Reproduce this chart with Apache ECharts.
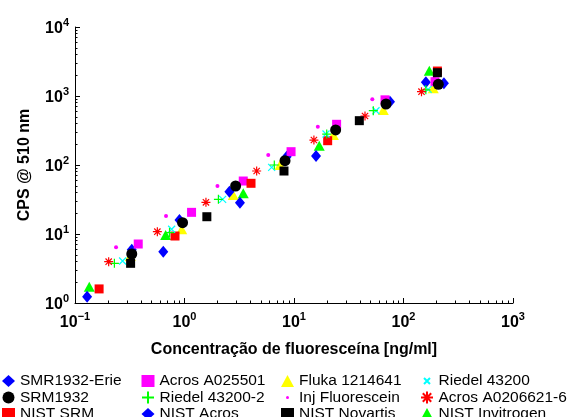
<!DOCTYPE html>
<html>
<head>
<meta charset="utf-8">
<script src="https://cdn.jsdelivr.net/npm/echarts@6/dist/echarts.min.js"></script>
<style>
  html, body { margin: 0; padding: 0; background: #fff; }
  #chart { width: 573px; height: 417px; }
</style>
</head>
<body>
<div id="chart"></div>
<script>
// pontos [concentração ng/ml, CPS]
const smrErie = [[0.129, 1.23], [0.64, 5.54], [3.21, 28.4], [15.9, 135], [160, 1580]];
const srm1932 = [[0.33, 5.13], [0.96, 14.6], [2.93, 49.6], [8.28, 115.6], [24, 322], [69.2, 766], [208, 1479]];
const nistSrm = [[0.166, 1.6], [0.819, 9.35], [4.05, 54.3], [20.3, 225], [204, 2300]];
const acrosA025501 = [[0.378, 7.16], [1.16, 20.6], [3.44, 58.6], [9.4, 156], [24.5, 389], [67.8, 880], [194, 1611]];
const riedel2 = [[0.229, 3.76], [0.73, 10.5], [2.04, 31.8], [6.61, 100], [19.9, 281], [53, 612], [160, 1230]];
const nistAcros = [[0.33, 5.9], [0.9, 16], [2.57, 41], [8.57, 132], [75.3, 827], [234, 1528]];
const fluka = [[0.32, 4.8], [0.943, 11.7], [2.79, 36.7], [7.45, 100], [22.9, 272], [65.4, 627], [187, 1292]];
const injFluor = [[0.237, 6.4], [0.678, 18.2], [2.0, 49.6], [5.82, 140], [16.5, 359], [51.9, 895], [190, 1800]];
const nistNovartis = [[0.322, 3.76], [1.6, 17.8], [8.1, 81.8], [39.5, 439], [204, 2177]];
const riedel = [[0.272, 4.06], [0.763, 11.7], [2.23, 31.8], [6.25, 92.6], [19.6, 281], [56.1, 612], [168, 1250]];
const acrosA0206 = [[0.203, 3.97], [0.565, 10.8], [1.57, 28.8], [4.56, 81.8], [15.2, 230], [44.5, 513], [146, 1155]];
const nistInvitrogen = [[0.135, 1.72], [0.673, 9.7], [3.44, 38.9], [17, 190], [172, 2327]];

const xMinorTicks = [0.2, 0.3, 0.4, 0.5, 0.6, 0.7, 0.8, 0.9, 2, 3, 4, 5, 6, 7, 8, 9, 20, 30, 40, 50, 60, 70, 80, 90, 200, 300, 400, 500, 600, 700, 800, 900];
const yMinorTicks = [2, 3, 4, 5, 6, 7, 8, 9, 20, 30, 40, 50, 60, 70, 80, 90, 200, 300, 400, 500, 600, 700, 800, 900, 2000, 3000, 4000, 5000, 6000, 7000, 8000, 9000];

const FONT = '"Liberation Sans", Arial, Helvetica, sans-serif';

const PLUS = 'path://M5,0L5,10M0,5L10,5';
const CROSS = 'path://M0,0L10,10M10,0L0,10';
const STAR = 'path://M5,0L5,10M0,5L10,5M1.5,1.5L8.5,8.5M8.5,1.5L1.5,8.5';
const DOT_ICON = 'path://M0,0M12,12M4.5,6a1.5,1.5 0 1,0 3,0a1.5,1.5 0 1,0 -3,0';
const CROSS_ICON = 'path://M0,0M12,12M3,3L9,9M9,3L3,9';

// ordem de desenho (de baixo para cima)
const seriesDefs = [
  { name: 'NIST Invitrogen', data: nistInvitrogen, symbol: 'triangle', size: [11, 10], color: '#00ff00' },
  { name: 'Fluka 1214641', data: fluka, symbol: 'triangle', size: [11, 10], color: '#ffff00' },
  { name: 'NIST Acros', data: nistAcros, symbol: 'diamond', size: [10, 12], color: '#0000ff' },
  { name: 'SMR1932-Erie', data: smrErie, symbol: 'diamond', size: [10, 12], color: '#0000ff' },
  { name: 'Acros A025501', data: acrosA025501, symbol: 'rect', size: 9, color: '#ff00ff' },
  { name: 'NIST SRM', data: nistSrm, symbol: 'rect', size: 9, color: '#ff0000' },
  { name: 'Riedel 43200', data: riedel, symbol: CROSS, size: 7, color: '#00ffff', stroke: true },
  { name: 'Riedel 43200-2', data: riedel2, symbol: PLUS, size: 9, color: '#00ff00', stroke: true },
  { name: 'Acros A0206621-6', data: acrosA0206, symbol: STAR, size: 9, color: '#ff0000', stroke: true },
  { name: 'Inj Fluorescein', data: injFluor, symbol: 'circle', size: 4, color: '#ff00ff' },
  { name: 'NIST Novartis', data: nistNovartis, symbol: 'rect', size: 9, color: '#000000' },
  { name: 'SRM1932', data: srm1932, symbol: 'circle', size: 11, color: '#000000' }
];

const legendCols = [
  ['SMR1932-Erie', 'SRM1932', 'NIST SRM'],
  ['Acros A025501', 'Riedel 43200-2', 'NIST Acros'],
  ['Fluka 1214641', 'Inj Fluorescein', 'NIST Novartis'],
  ['Riedel 43200', 'Acros A0206621-6', 'NIST Invitrogen']
];
const legendLeft = [2, 141, 281, 420];
const legendIcons = { 'Inj Fluorescein': DOT_ICON, 'Riedel 43200': CROSS_ICON };

function expLabel(v) {
  const e = Math.round(Math.log10(v));
  return '{b|10}{s|' + (e < 0 ? '\u2212' + (-e) : e) + '}';
}
const labelRich = {
  b: { fontFamily: FONT, fontSize: 16, fontWeight: 'bold', color: '#000', verticalAlign: 'bottom' },
  s: { fontFamily: FONT, fontSize: 11, fontWeight: 'bold', color: '#000', verticalAlign: 'bottom', padding: [0, 0, 9, 0] }
};

const chart = echarts.init(document.getElementById('chart'));

const option = {
  animation: false,
  backgroundColor: '#fff',
  grid: { left: 75, right: 60, top: 27, bottom: 114, containLabel: false },
  legend: legendCols.map((col, i) => ({
    orient: 'vertical',
    left: legendLeft[i],
    top: 373,
    width: 140,
    height: 80,
    itemWidth: 13,
    itemHeight: 12,
    itemGap: 0.5,
    selectedMode: false,
    padding: 0,
    textStyle: { fontFamily: FONT, fontSize: 15.5, color: '#000', lineHeight: 14 },
    data: col.map(n => legendIcons[n] ? { name: n, icon: legendIcons[n] } : n)
  })),
  xAxis: [
    {
      type: 'log', logBase: 10, min: 0.1, max: 1000,
      name: 'Concentração de fluoresceína [ng/ml]',
      nameLocation: 'middle', nameGap: 39,
      nameTextStyle: { fontFamily: FONT, fontSize: 16, fontWeight: 'bold', color: '#000' },
      axisLine: { lineStyle: { color: '#000', width: 1 } },
      axisTick: { inside: true, length: 5, lineStyle: { color: '#000' } },
      axisLabel: { margin: 8, formatter: expLabel, rich: labelRich },
      splitLine: { show: false }
    },
    {
      type: 'log', logBase: 10, min: 0.1, max: 1000, position: 'bottom',
      axisLine: { show: false },
      axisTick: { inside: true, length: 2.5, customValues: xMinorTicks, lineStyle: { color: '#000' } },
      axisLabel: { show: false },
      splitLine: { show: false }
    }
  ],
  yAxis: [
    {
      type: 'log', logBase: 10, min: 1, max: 10000,
      name: 'CPS @ 510 nm',
      nameLocation: 'middle', nameGap: 42,
      nameTextStyle: { fontFamily: FONT, fontSize: 16, fontWeight: 'bold', color: '#000' },
      axisLine: { lineStyle: { color: '#000', width: 1 } },
      axisTick: { inside: true, length: 5, lineStyle: { color: '#000' } },
      axisLabel: { margin: 6, formatter: expLabel, rich: labelRich },
      splitLine: { show: false }
    },
    {
      type: 'log', logBase: 10, min: 1, max: 10000, position: 'left',
      axisLine: { show: false },
      axisTick: { inside: true, length: 2.5, customValues: yMinorTicks, lineStyle: { color: '#000' } },
      axisLabel: { show: false },
      splitLine: { show: false }
    }
  ],
  series: seriesDefs.map(s => ({
    type: 'scatter',
    name: s.name,
    data: s.data,
    symbol: s.symbol,
    symbolSize: s.size,
    itemStyle: s.stroke
      ? { color: s.color, borderColor: s.color, borderWidth: 1.2, opacity: 1 }
      : { color: s.color, opacity: 1 },
    emphasis: { disabled: true }
  }))
};

chart.setOption(option);
</script>
</body>
</html>
